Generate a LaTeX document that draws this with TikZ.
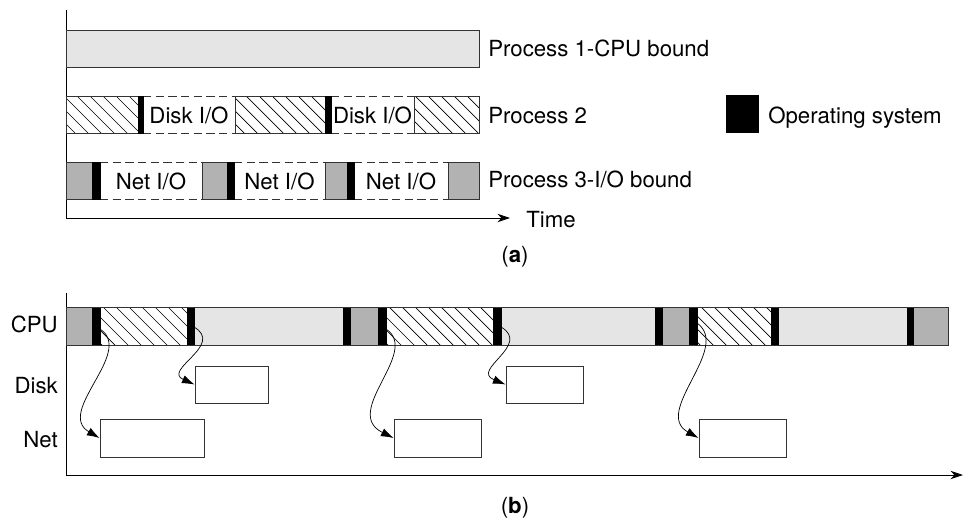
\documentclass[tikz,border=0pt]{standalone}
\usepackage{fontspec}
\setmainfont{TeX Gyre Heros}
\usetikzlibrary{arrows.meta,fit}

\newcommand\hatchbox[4]{%
  \begin{scope}
    \clip (#1,#3) rectangle (#2,#4);
    \foreach \k in {-40,-27,...,960}
      \draw[hatch] (\k,#3) -- ++({#4-#3},{#4-#3});
  \end{scope}
  \draw[seg] (#1,#3) rectangle (#2,#4);}

\begin{document}
\begin{tikzpicture}[x=0.025cm, y=-0.025cm,
  every node/.style={font=\fontsize{15.8}{19}\selectfont, inner sep=0pt},
  seg/.style={draw=black!80, line width=0.6pt},
  cpu/.style={seg, fill=gray!20},
  wait/.style={seg, fill=gray!60},
  hatch/.style={line width=0.5pt},
  os/.style={fill=black},
  io/.style={draw=black!80, line width=0.6pt, dash pattern=on 6pt off 3pt},
  iobox/.style={seg, inner sep=0pt},
  call/.style={-{Latex[length=9pt, width=6pt]}, line width=0.5pt},
  axis/.style={line width=0.6pt, -{Stealth[length=9pt, width=6pt]}}]
  \useasboundingbox (0,0) rectangle (964,519);

  % (a)
  \draw[axis] (66,10) |- (510,218);
  \node[anchor=base west] (time) at (526,227) {Time};
  \draw[cpu] (66,30) rectangle (479,67);
  \node[anchor=base west] (p1) at (488,57) {Process 1-CPU bound};
  \foreach \a/\b in {143/235, 331/414} {
    \draw[io] (\a,96) -- (\b,96) (\a,133) -- (\b,133);
    \node (disk\a) at ({(\a+\b)/2},115) {Disk I/O};
  }
  \foreach \a/\b in {66/138, 235/325, 414/479}
    \hatchbox{\a}{\b}{96}{133};
  \foreach \a/\b in {138/143, 325/331}
    \draw[os] (\a,96) rectangle (\b,133);
  \node[anchor=base west] (p2) at (488,123) {Process 2};
  \foreach \a/\b in {100/202, 234/325, 354/448} {
    \draw[io] (\a,162) -- (\b,162) (\a,199) -- (\b,199);
    \node (net\a) at ({(\a+\b)/2},181) {Net I/O};
  }
  \foreach \s/\a/\b in {wait/66/92, wait/202/227, wait/325/347, wait/448/479,
                        os/92/100, os/227/234, os/347/354}
    \draw[\s] (\a,162) rectangle (\b,199);
  \node[anchor=base west] (p3) at (488,187) {Process 3-I/O bound};
  \fill (726,95) rectangle (759,133);
  \node[anchor=base west] (oslabel) at (768,123) {Operating system};
  \node[anchor=base] (capa) at (515,262) {(\textbf{a})};

  % (b)
  \draw[axis] (66,293) |- (963,475);
  \foreach \a/\b in {100/187, 386/493, 697/771}
    \hatchbox{\a}{\b}{307}{345};
  \foreach \s/\a/\b in {wait/66/92, cpu/194/343, wait/350/378, cpu/501/655,
                        wait/662/689, cpu/778/907, wait/913/948,
                        os/92/100, os/187/194, os/343/350, os/378/386, os/493/501,
                        os/655/662, os/689/697, os/771/778, os/907/913}
    \draw[\s] (\a,307) rectangle (\b,345);
  \draw[seg] (66,307) rectangle (948,345);
  \node[anchor=base east] (cpulabel) at (58,332) {CPU};
  \node[anchor=base east] (disklabel) at (58,393) {Disk};
  \node[anchor=base east] (netlabel) at (58,447) {Net};

  \node[iobox, fit={(195,366) (268,403)}] (d1) {};
  \node[iobox, fit={(506,366) (583,403)}] (d2) {};
  \node[iobox, fit={(100,419) (204,457)}] (n1) {};
  \node[iobox, fit={(394,419) (481,457)}] (n2) {};
  \node[iobox, fit={(699,419) (786,457)}] (n3) {};

  \coordinate (s1) at (100,329);
  \coordinate (s2) at (194,327);
  \coordinate (s3) at (386,329);
  \coordinate (s4) at (501,327);
  \coordinate (s5) at (697,323);
  \draw[call] (s1) .. controls (135,352) and (55,412) .. (n1.west);
  \draw[call] (s2) .. controls (225,345) and (162,370) .. (d1.west);
  \draw[call] (s3) .. controls (421,352) and (341,412) .. (n2.west);
  \draw[call] (s4) .. controls (532,345) and (470,370) .. (d2.west);
  \draw[call] (s5) .. controls (732,348) and (652,412) .. (n3.west);
  \node[anchor=base] (capb) at (515,513) {(\textbf{b})};
\end{tikzpicture}
\end{document}
